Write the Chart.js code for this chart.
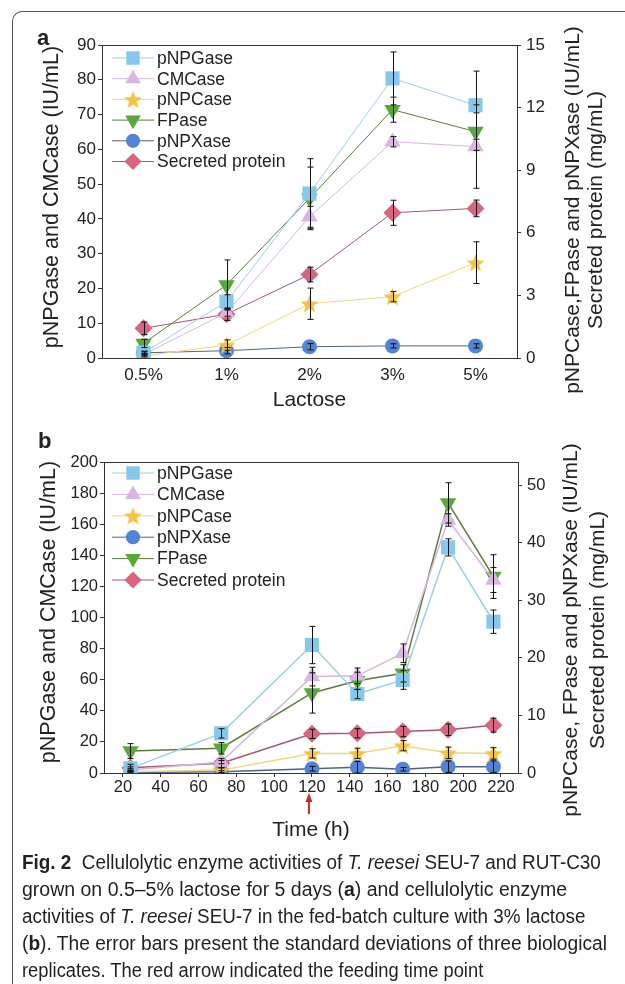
<!DOCTYPE html>
<html>
<head>
<meta charset="utf-8">
<script src="https://cdn.jsdelivr.net/npm/chart.js@4.4.1/dist/chart.umd.min.js"></script>
<style>
  body { margin: 0; background: #fff; }
  #page { position: relative; width: 625px; height: 984px; overflow: hidden; background: #fff;
          font-family: "Liberation Sans", Arial, sans-serif; color: #222; }
  .frame { position: absolute; left: 12px; top: 11px; width: 700px; height: 1100px;
           border-top: 1.5px solid #555; border-left: 1.5px solid #555; border-top-left-radius: 10px; }
  .panel { position: absolute; left: 0; }
  .tag { position: absolute; font-weight: bold; font-size: 22px; line-height: 22px; }
  .cap { position: absolute; left: 22px; font-family: "Liberation Sans Narrow", "Liberation Sans", Arial, sans-serif;
         font-size: 20px; line-height: 27px; white-space: nowrap; transform-origin: 0 0; color: #231f20; }
</style>
</head>
<body>
<div id="page">
  <div class="frame"></div>
  <canvas id="chartA" class="panel" width="625" height="420" style="top:0"></canvas>
  <canvas id="chartB" class="panel" width="625" height="420" style="top:430px"></canvas>
  <div class="tag" style="left:37px;top:27px">a</div>
  <div class="tag" style="left:38px;top:430px">b</div>
  <div class="cap" data-w="579" style="top:849px"><b>Fig. 2</b>&nbsp; Cellulolytic enzyme activities of <i>T. reesei</i> SEU-7 and RUT-C30</div>
  <div class="cap" data-w="545" style="top:876px">grown on 0.5–5% lactose for 5 days (<b>a</b>) and cellulolytic enzyme</div>
  <div class="cap" data-w="563" style="top:903px">activities of <i>T. reesei</i> SEU-7 in the fed-batch culture with 3% lactose</div>
  <div class="cap" data-w="585" style="top:930px">(<b>b</b>). The error bars present the standard deviations of three biological</div>
  <div class="cap" data-w="461" style="top:957px">replicates. The red arrow indicated the feeding time point</div>
</div>
<script>
// ---- panel a: lactose concentration ----
const lactose = ['0.5%', '1%', '2%', '3%', '5%'];
// left axis (IU/mL)
const aPNPGase    = [1.5, 16.2, 47.3, 80.4, 72.7];
const aPNPGaseErr = [0.5, 2, 10, 7.6, 9.8];
const aCMCase     = [1, 13, 40.6, 62.2, 60.8];
const aCMCaseErr  = [0.4, 1, 3, 1.5, 12];
// right axis (IU/mL, mg/mL)
const aPNPCase     = [0.1, 0.62, 2.6, 2.94, 4.57];
const aPNPCaseErr  = [0.05, 0.25, 0.75, 0.25, 1.0];
const aFPase       = [0.7, 3.5, 7.65, 11.9, 10.85];
const aFPaseErr    = [0.2, 1.2, 1.5, 0.6, 0.9];
const aPNPXase     = [0.25, 0.35, 0.54, 0.58, 0.58];
const aPNPXaseErr  = [0.05, 0.15, 0.15, 0.1, 0.1];
const aProtein     = [1.42, 2.1, 4.0, 6.96, 7.17];
const aProteinErr  = [0.3, 0.3, 0.35, 0.6, 0.4];
const aLeftTicks  = [0, 10, 20, 30, 40, 50, 60, 70, 80, 90];
const aRightTicks = [0, 3, 6, 9, 12, 15];

// ---- panel b: fed-batch time course ----
const hours = [24, 72, 120, 144, 168, 192, 216];
const bPNPGase    = [3, 25.5, 82.3, 50.8, 59.8, 145.1, 97.3];
const bPNPGaseErr = [1, 3, 12, 3, 6, 5.5, 7.5];
const bCMCase     = [2, 7, 62, 62.5, 77, 162.7, 124.1];
const bCMCaseErr  = [1, 1, 6, 5, 6, 4, 8];
const bPNPCase    = [0.2, 0.5, 3.4, 3.4, 4.75, 3.5, 3.4];
const bPNPCaseErr = [0.2, 0.4, 0.8, 0.9, 0.9, 1.0, 1.0];
const bPNPXase    = [0.1, 0.2, 0.75, 1.0, 0.65, 1.1, 1.1];
const bPNPXaseErr = [0.1, 0.2, 0.4, 1.0, 0.3, 1.0, 1.0];
const bFPase      = [3.8, 4.3, 13.9, 16.0, 17.3, 46.9, 34.1];
const bFPaseErr   = [1.3, 1, 3.5, 1.5, 1.5, 3.5, 3.8];
const bProtein    = [0.92, 1.7, 6.8, 6.9, 7.2, 7.5, 8.3];
const bProteinErr = [0.6, 0.8, 0.8, 0.8, 0.9, 1.0, 1.2];
const bTimeTicks  = [20, 40, 60, 80, 100, 120, 140, 160, 180, 200, 220];
const bLeftTicks  = [0, 20, 40, 60, 80, 100, 120, 140, 160, 180, 200];
const bRightTicks = [0, 10, 20, 30, 40, 50];
const feedHour = 120;

const FONT = '"Liberation Sans", Arial, sans-serif';
const INK = '#222';

// filled five-point star used as a point style
function starImage(r, fill) {
  const c = document.createElement('canvas');
  c.width = c.height = Math.ceil(r * 2 + 2);
  const g = c.getContext('2d');
  g.translate(c.width / 2, c.height / 2 + r * 0.1);
  g.beginPath();
  for (let i = 0; i < 10; i++) {
    const rr = i % 2 ? r * 0.42 : r;
    const ang = -Math.PI / 2 + i * Math.PI / 5;
    g.lineTo(rr * Math.cos(ang), rr * Math.sin(ang));
  }
  g.closePath();
  g.fillStyle = fill;
  g.fill();
  return c;
}

const styles = {
  pNPGase: { marker: '#86c8ec', line: '#9ccfe6', pointStyle: 'rect', radius: 10 },
  CMCase:  { marker: '#d9b5e4', line: '#d4b8de', pointStyle: 'triangle', radius: 9.5 },
  pNPCase: { marker: '#f4c23e', line: '#efd77a', pointStyle: starImage(9.5, '#f4c23e'), radius: 9 },
  FPase:   { marker: '#5aa83a', line: '#5d7a3e', pointStyle: 'triangle', radius: 9.5, rotation: 180 },
  pNPXase: { marker: '#5283d6', line: '#4e648f', pointStyle: 'circle', radius: 7.5 },
  protein: { marker: '#d8647e', line: '#a9566c', pointStyle: 'rectRot', radius: 9 }
};

function series(label, key, values, errs, axis, xs, lw) {
  const s = styles[key];
  return {
    label: label,
    data: xs ? values.map((v, i) => ({ x: xs[i], y: v })) : values,
    errors: errs,
    yAxisID: axis,
    borderColor: s.line,
    borderWidth: lw,
    pointBackgroundColor: s.marker,
    pointBorderWidth: 0,
    pointStyle: s.pointStyle,
    pointRadius: s.radius,
    pointRotation: s.rotation || 0,
    tension: 0
  };
}

// error bars, drawn over the markers
const errorBars = {
  id: 'errorBars',
  afterDatasetsDraw(chart) {
    const ctx = chart.ctx;
    ctx.save();
    ctx.strokeStyle = '#111';
    ctx.lineWidth = 1;
    chart.data.datasets.forEach((ds, di) => {
      const meta = chart.getDatasetMeta(di);
      const scale = chart.scales[ds.yAxisID];
      meta.data.forEach((pt, i) => {
        const raw = ds.data[i];
        const v = typeof raw === 'object' ? raw.y : raw;
        const e = ds.errors[i];
        const yt = scale.getPixelForValue(v + e);
        const yb = scale.getPixelForValue(Math.max(v - e, 0));
        const x = Math.round(pt.x) + 0.5;
        ctx.beginPath();
        ctx.moveTo(x, yt); ctx.lineTo(x, yb);
        ctx.moveTo(x - 3, yt); ctx.lineTo(x + 3, yt);
        ctx.moveTo(x - 3, yb); ctx.lineTo(x + 3, yb);
        ctx.stroke();
      });
    });
    ctx.restore();
  }
};

function verticalText(ctx, text, x, y) {
  ctx.save();
  ctx.translate(x, y);
  ctx.rotate(-Math.PI / 2);
  ctx.fillText(text, 0, 0);
  ctx.restore();
}

// frame, legend inside the plot, axis titles on both sides, feeding arrow
const decorations = {
  id: 'decorations',
  afterDraw(chart, args, opts) {
    const { ctx, chartArea } = chart;
    ctx.save();
    ctx.strokeStyle = '#333';
    ctx.lineWidth = 1;
    ctx.strokeRect(Math.round(chartArea.left) + 0.5, Math.round(chartArea.top) + 0.5,
                   Math.round(chartArea.width), Math.round(chartArea.height));

    // legend
    chart.data.datasets.forEach((ds, i) => {
      const y = chartArea.top + opts.legendTop + i * opts.legendGap;
      const x0 = chartArea.left + opts.legendLeft;
      ctx.strokeStyle = ds.borderColor;
      ctx.lineWidth = 1;
      ctx.beginPath(); ctx.moveTo(x0, y); ctx.lineTo(x0 + 42, y); ctx.stroke();
      ctx.fillStyle = ds.pointBackgroundColor;
      Chart.helpers.drawPoint(ctx, { pointStyle: ds.pointStyle, rotation: ds.pointRotation,
                                     radius: ds.pointRadius * 0.95, borderWidth: 0 }, x0 + 21, y);
      ctx.fillStyle = INK;
      ctx.font = '17.5px ' + FONT;
      ctx.textBaseline = 'middle';
      ctx.textAlign = 'left';
      ctx.fillText(ds.label, x0 + 45, y + 1);
    });

    // axis titles, reading bottom to top
    ctx.fillStyle = INK;
    ctx.textAlign = 'center';
    ctx.textBaseline = 'middle';
    ctx.font = '21.5px ' + FONT;
    verticalText(ctx, opts.leftTitle, opts.leftTitleX, opts.leftTitleY);
    ctx.font = '21px ' + FONT;
    opts.rightTitle.forEach((t, i) => verticalText(ctx, t, opts.rightTitleX[i], opts.rightTitleY));

    if (opts.arrowAt != null) {
      const x = chart.scales.x.getPixelForValue(opts.arrowAt) - 3;
      const top = chartArea.bottom + 20;
      ctx.strokeStyle = '#c42a2e';
      ctx.fillStyle = '#c42a2e';
      ctx.lineWidth = 2;
      ctx.beginPath(); ctx.moveTo(x, top + 6); ctx.lineTo(x, top + 21); ctx.stroke();
      ctx.beginPath(); ctx.moveTo(x, top); ctx.lineTo(x - 3.5, top + 9); ctx.lineTo(x + 3.5, top + 9); ctx.closePath(); ctx.fill();
    }
    ctx.restore();
  }
};

function yAxis(pos, min, max, ticks, size, pad, width) {
  return {
    position: pos, min: min, max: max,
    afterBuildTicks(s) { s.ticks = ticks.map(v => ({ value: v })); },
    afterFit(s) { s.width = width; },
    ticks: { color: INK, font: { family: FONT, size: size }, padding: pad },
    grid: { drawOnChartArea: false, tickLength: 4, color: '#333' },
    border: { color: '#333' }
  };
}

Chart.defaults.font.family = FONT;

new Chart(document.getElementById('chartA'), {
  type: 'line',
  data: {
    labels: lactose,
    datasets: [
      series('pNPGase', 'pNPGase', aPNPGase, aPNPGaseErr, 'y', null, 1),
      series('CMCase', 'CMCase', aCMCase, aCMCaseErr, 'y', null, 1),
      series('pNPCase', 'pNPCase', aPNPCase, aPNPCaseErr, 'y1', null, 1),
      series('FPase', 'FPase', aFPase, aFPaseErr, 'y1', null, 1),
      series('pNPXase', 'pNPXase', aPNPXase, aPNPXaseErr, 'y1', null, 1),
      series('Secreted protein', 'protein', aProtein, aProteinErr, 'y1', null, 1)
    ]
  },
  options: {
    responsive: false,
    animation: false,
    devicePixelRatio: 1,
    layout: { padding: { top: 45, left: 0, right: 0, bottom: 0 } },
    plugins: {
      legend: { display: false },
      tooltip: { enabled: false },
      decorations: {
        legendTop: 13, legendGap: 20.7, legendLeft: 10,
        leftTitle: 'pNPGase and CMCase (IU/mL)', leftTitleX: 52, leftTitleY: 197,
        rightTitle: ['pNPCase,FPase and pNPXase (IU/mL)', 'Secreted protein (mg/mL)'],
        rightTitleX: [573, 596], rightTitleY: 210, arrowAt: null
      }
    },
    scales: {
      x: {
        type: 'category', offset: true,
        afterFit(s) { s.height = 62; },
        grid: { display: false, drawTicks: false },
        border: { color: '#333' },
        ticks: { color: INK, font: { family: FONT, size: 17 }, padding: 7 },
        title: { display: true, text: 'Lactose', color: INK, font: { family: FONT, size: 21 }, padding: { bottom: 7 } }
      },
      y: yAxis('left', 0, 90, aLeftTicks, 17, 2, 102),
      y1: yAxis('right', 0, 15, aRightTicks, 17, 5, 108)
    }
  },
  plugins: [errorBars, decorations]
});

new Chart(document.getElementById('chartB'), {
  type: 'line',
  data: {
    datasets: [
      series('pNPGase', 'pNPGase', bPNPGase, bPNPGaseErr, 'y', hours, 1.5),
      series('CMCase', 'CMCase', bCMCase, bCMCaseErr, 'y', hours, 1.5),
      series('pNPCase', 'pNPCase', bPNPCase, bPNPCaseErr, 'y1', hours, 1.5),
      series('pNPXase', 'pNPXase', bPNPXase, bPNPXaseErr, 'y1', hours, 1.5),
      series('FPase', 'FPase', bFPase, bFPaseErr, 'y1', hours, 1.5),
      series('Secreted protein', 'protein', bProtein, bProteinErr, 'y1', hours, 1.5)
    ]
  },
  options: {
    responsive: false,
    animation: false,
    devicePixelRatio: 1,
    layout: { padding: { top: 32, left: 0, right: 0, bottom: 0 } },
    plugins: {
      legend: { display: false },
      tooltip: { enabled: false },
      decorations: {
        legendTop: 11, legendGap: 21.4, legendLeft: 8,
        leftTitle: 'pNPGase and CMCase (IU/mL)', leftTitleX: 49, leftTitleY: 182,
        rightTitle: ['pNPCase, FPase and pNPXase (IU/mL)', 'Secreted protein (mg/mL)'],
        rightTitleX: [571, 598], rightTitleY: 200, arrowAt: feedHour
      }
    },
    scales: {
      x: {
        type: 'linear', min: 10, max: 229,
        afterBuildTicks(s) { s.ticks = bTimeTicks.map(v => ({ value: v })); },
        afterFit(s) { s.height = 77; },
        grid: { drawOnChartArea: false, tickLength: 4, color: '#333' },
        border: { color: '#333' },
        ticks: { color: INK, font: { family: FONT, size: 16.5 }, padding: 1 },
        title: { display: true, text: 'Time (h)', color: INK, font: { family: FONT, size: 21 }, padding: { bottom: 7 } }
      },
      y: yAxis('left', 0, 200, bLeftTicks, 16.5, 2, 104),
      y1: yAxis('right', 0, 54, bRightTicks, 16.5, 5, 107)
    }
  },
  plugins: [errorBars, decorations]
});

// fit each caption line to the width it has in the figure
document.querySelectorAll('.cap').forEach(el => {
  const w = +el.dataset.w;
  el.style.transform = 'scaleX(' + (w / el.scrollWidth) + ')';
});
</script>
</body>
</html>
